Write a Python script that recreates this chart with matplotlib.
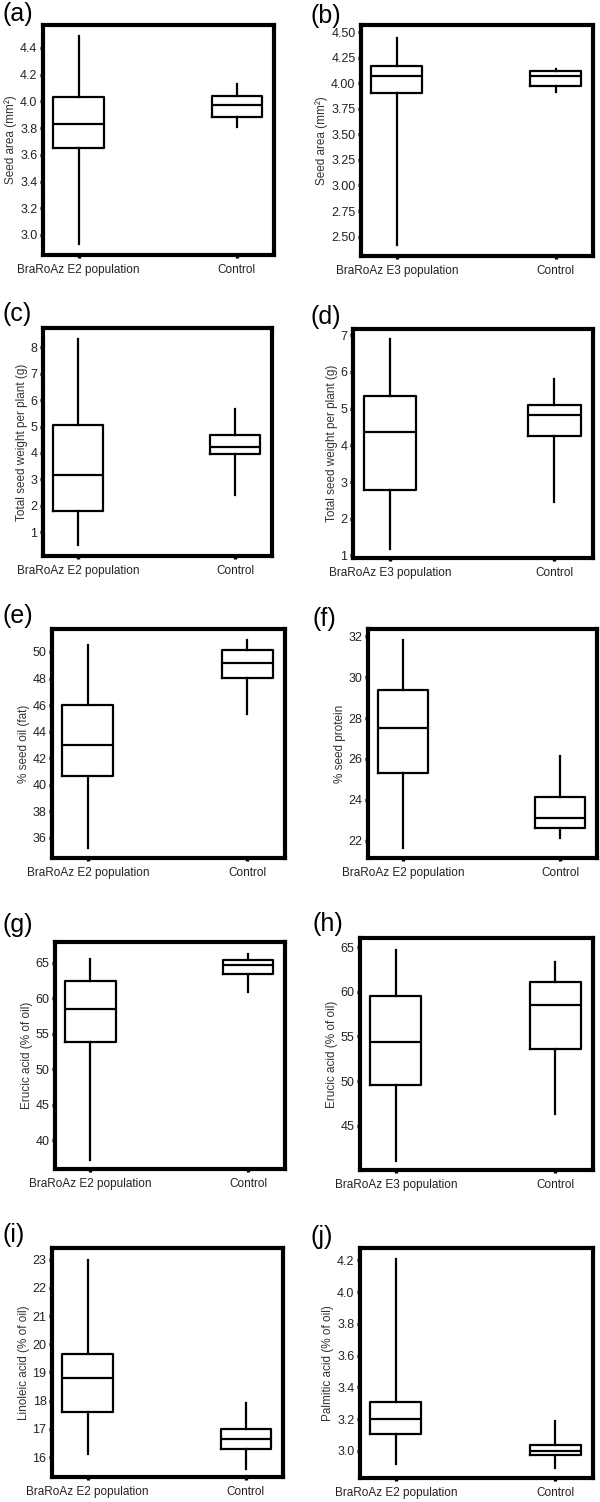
import matplotlib
matplotlib.use("Agg")
import matplotlib.pyplot as plt

plt.rcParams['font.family'] = ['Liberation Sans', 'DejaVu Sans']

# five-number summaries: [whisker low, Q1, median, Q3, whisker high]
a_e2 = [2.93, 3.65, 3.83, 4.03, 4.49]
a_ctrl = [3.81, 3.88, 3.97, 4.04, 4.13]
b_e3 = [2.42, 3.90, 4.07, 4.17, 4.44]
b_ctrl = [3.91, 3.97, 4.07, 4.12, 4.14]
c_e2 = [0.50, 1.82, 3.16, 5.04, 8.30]
c_ctrl = [2.40, 3.96, 4.22, 4.67, 5.65]
d_e3 = [1.17, 2.79, 4.35, 5.35, 6.90]
d_ctrl = [2.45, 4.25, 4.83, 5.11, 5.81]
e_e2 = [35.25, 40.69, 43.03, 46.04, 50.55]
e_ctrl = [45.36, 48.04, 49.17, 50.13, 50.88]
f_e2 = [21.64, 25.31, 27.53, 29.36, 31.80]
f_ctrl = [22.11, 22.60, 23.11, 24.14, 26.13]
g_e2 = [37.29, 53.79, 58.46, 62.38, 65.56]
g_ctrl = [60.89, 63.46, 64.72, 65.33, 66.26]
h_e3 = [41.07, 49.57, 54.36, 59.49, 64.74]
h_ctrl = [46.27, 53.58, 58.52, 61.07, 63.31]
i_e2 = [16.10, 17.58, 18.80, 19.65, 23.00]
i_ctrl = [15.59, 16.30, 16.65, 17.01, 17.90]
j_e2 = [2.92, 3.105, 3.20, 3.306, 4.21]
j_ctrl = [2.89, 2.977, 3.00, 3.04, 3.187]

cat_e2 = ["BraRoAz E2 population", "Control"]
cat_e3 = ["BraRoAz E3 population", "Control"]

ylab_area = "Seed area (mm²)"
ylab_weight = "Total seed weight per plant (g)"
ylab_oil = "% seed oil (fat)"
ylab_protein = "% seed protein"
ylab_erucic = "Erucic acid (% of oil)"
ylab_linoleic = "Linoleic acid (% of oil)"
ylab_palmitic = "Palmitic acid (% of oil)"

a_ticks = [3.0, 3.2, 3.4, 3.6, 3.8, 4.0, 4.2, 4.4]
b_ticks = [2.50, 2.75, 3.00, 3.25, 3.50, 3.75, 4.00, 4.25, 4.50]
c_ticks = [1, 2, 3, 4, 5, 6, 7, 8]
d_ticks = [1, 2, 3, 4, 5, 6, 7]
e_ticks = [36, 38, 40, 42, 44, 46, 48, 50]
f_ticks = [22, 24, 26, 28, 30, 32]
g_ticks = [40, 45, 50, 55, 60, 65]
h_ticks = [45, 50, 55, 60, 65]
i_ticks = [16, 17, 18, 19, 20, 21, 22, 23]
j_ticks = [3.0, 3.2, 3.4, 3.6, 3.8, 4.0, 4.2]

W, H = 600, 1502
fig = plt.figure(figsize=(W / 100, H / 100), dpi=100)

# layout (pixels): label, x0, x1, ytop, ybottom, label_x, label_top
panels = [
    ("(a)", a_e2, a_ctrl, cat_e2, ylab_area, a_ticks, "{:.1f}", (2.85, 4.572), 43, 274, 25, 255, 2, 2),
    ("(b)", b_e3, b_ctrl, cat_e3, ylab_area, b_ticks, "{:.2f}", (2.31, 4.57), 361, 593, 25, 256, 311, 4),
    ("(c)", c_e2, c_ctrl, cat_e2, ylab_weight, c_ticks, "{:d}", (0.10, 8.73), 43, 272, 328, 556, 2, 302),
    ("(d)", d_e3, d_ctrl, cat_e3, ylab_weight, d_ticks, "{:d}", (0.93, 7.17), 353, 593, 329, 558, 311, 305),
    ("(e)", e_e2, e_ctrl, cat_e2, ylab_oil, e_ticks, "{:d}", (34.49, 51.73), 52, 285, 629, 858, 2, 604),
    ("(f)", f_e2, f_ctrl, cat_e2, ylab_protein, f_ticks, "{:d}", (21.15, 32.36), 368, 597, 629, 858, 312, 607),
    ("(g)", g_e2, g_ctrl, cat_e2, ylab_erucic, g_ticks, "{:d}", (35.98, 67.9), 55, 285, 942, 1169, 2, 913),
    ("(h)", h_e3, h_ctrl, cat_e3, ylab_erucic, h_ticks, "{:d}", (40.02, 66.05), 360, 593, 938, 1170, 312, 912),
    ("(i)", i_e2, i_ctrl, cat_e2, ylab_linoleic, i_ticks, "{:d}", (15.29, 23.42), 52, 283, 1248, 1477, 2, 1223),
    ("(j)", j_e2, j_ctrl, cat_e2, ylab_palmitic, j_ticks, "{:.1f}", (2.83, 4.278), 360, 593, 1248, 1478, 311, 1225),
]

tick_col = "#222222"
lab_col = "#333333"

for (lab, g1, g2, cats, ylab, ticks, fmt, ylim, x0, x1, yt, yb, lx, ly) in panels:
    ax = fig.add_axes([x0 / W, 1 - yb / H, (x1 - x0) / W, (yb - yt) / H])
    stats = []
    for vals, name in zip([g1, g2], cats):
        stats.append(dict(whislo=vals[0], q1=vals[1], med=vals[2], q3=vals[3],
                          whishi=vals[4], fliers=[], label=name))
    ax.bxp(stats, positions=[1, 2], widths=0.32, showcaps=False, showfliers=False,
           boxprops=dict(color="black", linewidth=1.6),
           medianprops=dict(color="black", linewidth=1.6),
           whiskerprops=dict(color="black", linewidth=1.6))
    ax.set_xlim(0.775, 2.235)
    ax.set_ylim(*ylim)
    ax.set_yticks(ticks)
    ax.set_yticklabels([fmt.format(t) for t in ticks])
    ax.set_xticks([1, 2])
    ax.set_xticklabels(cats)
    for s in ax.spines.values():
        s.set_linewidth(3.0)
        s.set_color("black")
    ax.tick_params(axis="both", direction="out", length=2.5, width=2.4, color="black",
                   labelcolor=tick_col, pad=1.5)
    ax.tick_params(axis="y", labelsize=9)
    ax.tick_params(axis="x", labelsize=8.5, pad=4)
    ax.set_ylabel(ylab, fontsize=8.5, color=lab_col, labelpad=2)
    fig.text(lx / W, 1 - ly / H, lab, fontsize=18, va="top", ha="left", color="black")

fig.savefig("out.png", dpi=100)
